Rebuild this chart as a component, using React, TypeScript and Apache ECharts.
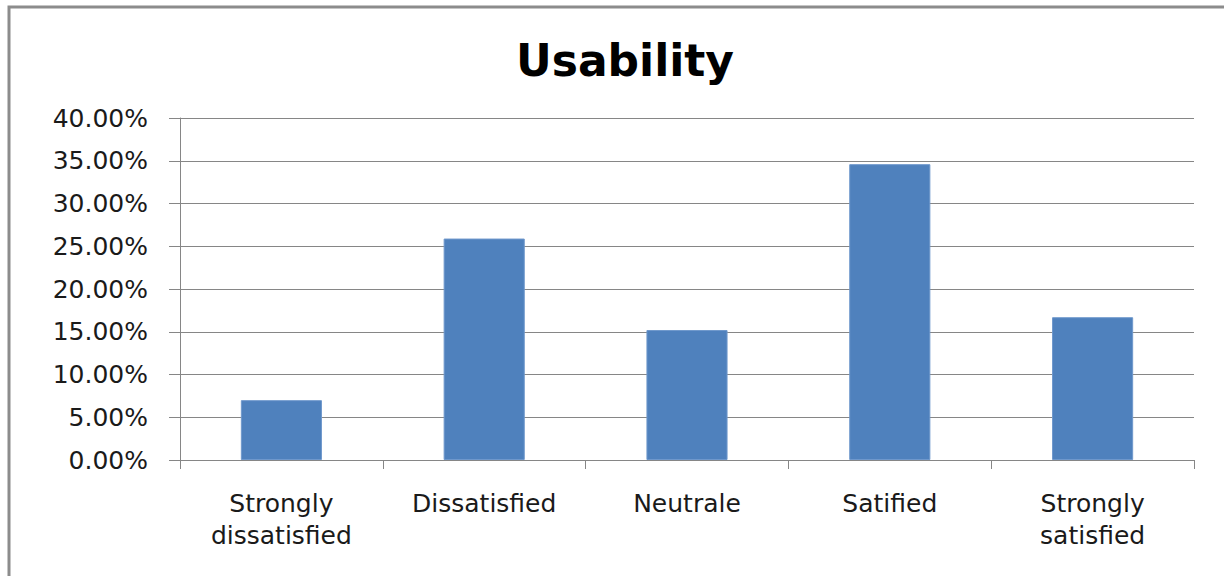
import React, { useEffect, useRef } from "react";
import * as echarts from "echarts";

const titleText = "Usability";
const categories = [
  "Strongly\ndissatisfied",
  "Dissatisfied",
  "Neutrale",
  "Satified",
  "Strongly\nsatisfied",
];
const values = [7.0, 25.9, 15.2, 34.6, 16.7];
const yMin = 0;
const yMax = 40;
const yInterval = 5;

export default function App() {
  const ref = useRef<HTMLDivElement>(null);
  useEffect(() => {
    if (!ref.current) return;
    const chart = echarts.init(ref.current, null, { renderer: "svg" });
    const font = "DejaVu Sans";
    chart.setOption({
      animation: false,
      backgroundColor: "#ffffff",
      title: {
        text: titleText,
        left: 620,
        top: 33,
        textAlign: "center",
        textStyle: {
          fontFamily: font,
          fontWeight: "bold",
          fontSize: 44,
          color: "#000000",
        },
      },
      graphic: [
        {
          type: "rect",
          shape: { x: 9, y: 7, width: 1400, height: 800 },
          style: { fill: "none", stroke: "#8c8c8c", lineWidth: 3 },
          silent: true,
        },
      ],
      grid: { left: 180, right: 30, top: 118, bottom: 116, containLabel: false },
      xAxis: {
        type: "category",
        data: categories,
        axisLine: { show: true, lineStyle: { color: "#868686", width: 1 } },
        axisTick: {
          show: true,
          alignWithLabel: false,
          length: 9,
          lineStyle: { color: "#868686" },
        },
        axisLabel: {
          fontFamily: font,
          fontSize: 25,
          color: "#1a1a1a",
          lineHeight: 32,
          margin: 27,
          interval: 0,
        },
        splitLine: { show: false },
      },
      yAxis: {
        type: "value",
        min: yMin,
        max: yMax,
        interval: yInterval,
        axisLine: { show: true, lineStyle: { color: "#868686", width: 1 } },
        axisTick: { show: true, length: 11, lineStyle: { color: "#868686" } },
        axisLabel: {
          fontFamily: font,
          fontSize: 25,
          color: "#1a1a1a",
          margin: 32,
          formatter: (v: number) => v.toFixed(2) + "%",
        },
        splitLine: { show: true, lineStyle: { color: "#868686", width: 1 } },
      },
      series: [
        {
          type: "bar",
          data: values,
          barWidth: "40%",
          itemStyle: {
            color: "#4f81bd",
            borderColor: "#6f98cc",
            borderWidth: 1,
          },
        },
      ],
    });
    return () => chart.dispose();
  }, []);
  return (
    <div
      ref={ref}
      style={{ position: "absolute", left: 0, top: 0, width: 1224, height: 576 }}
    />
  );
}
